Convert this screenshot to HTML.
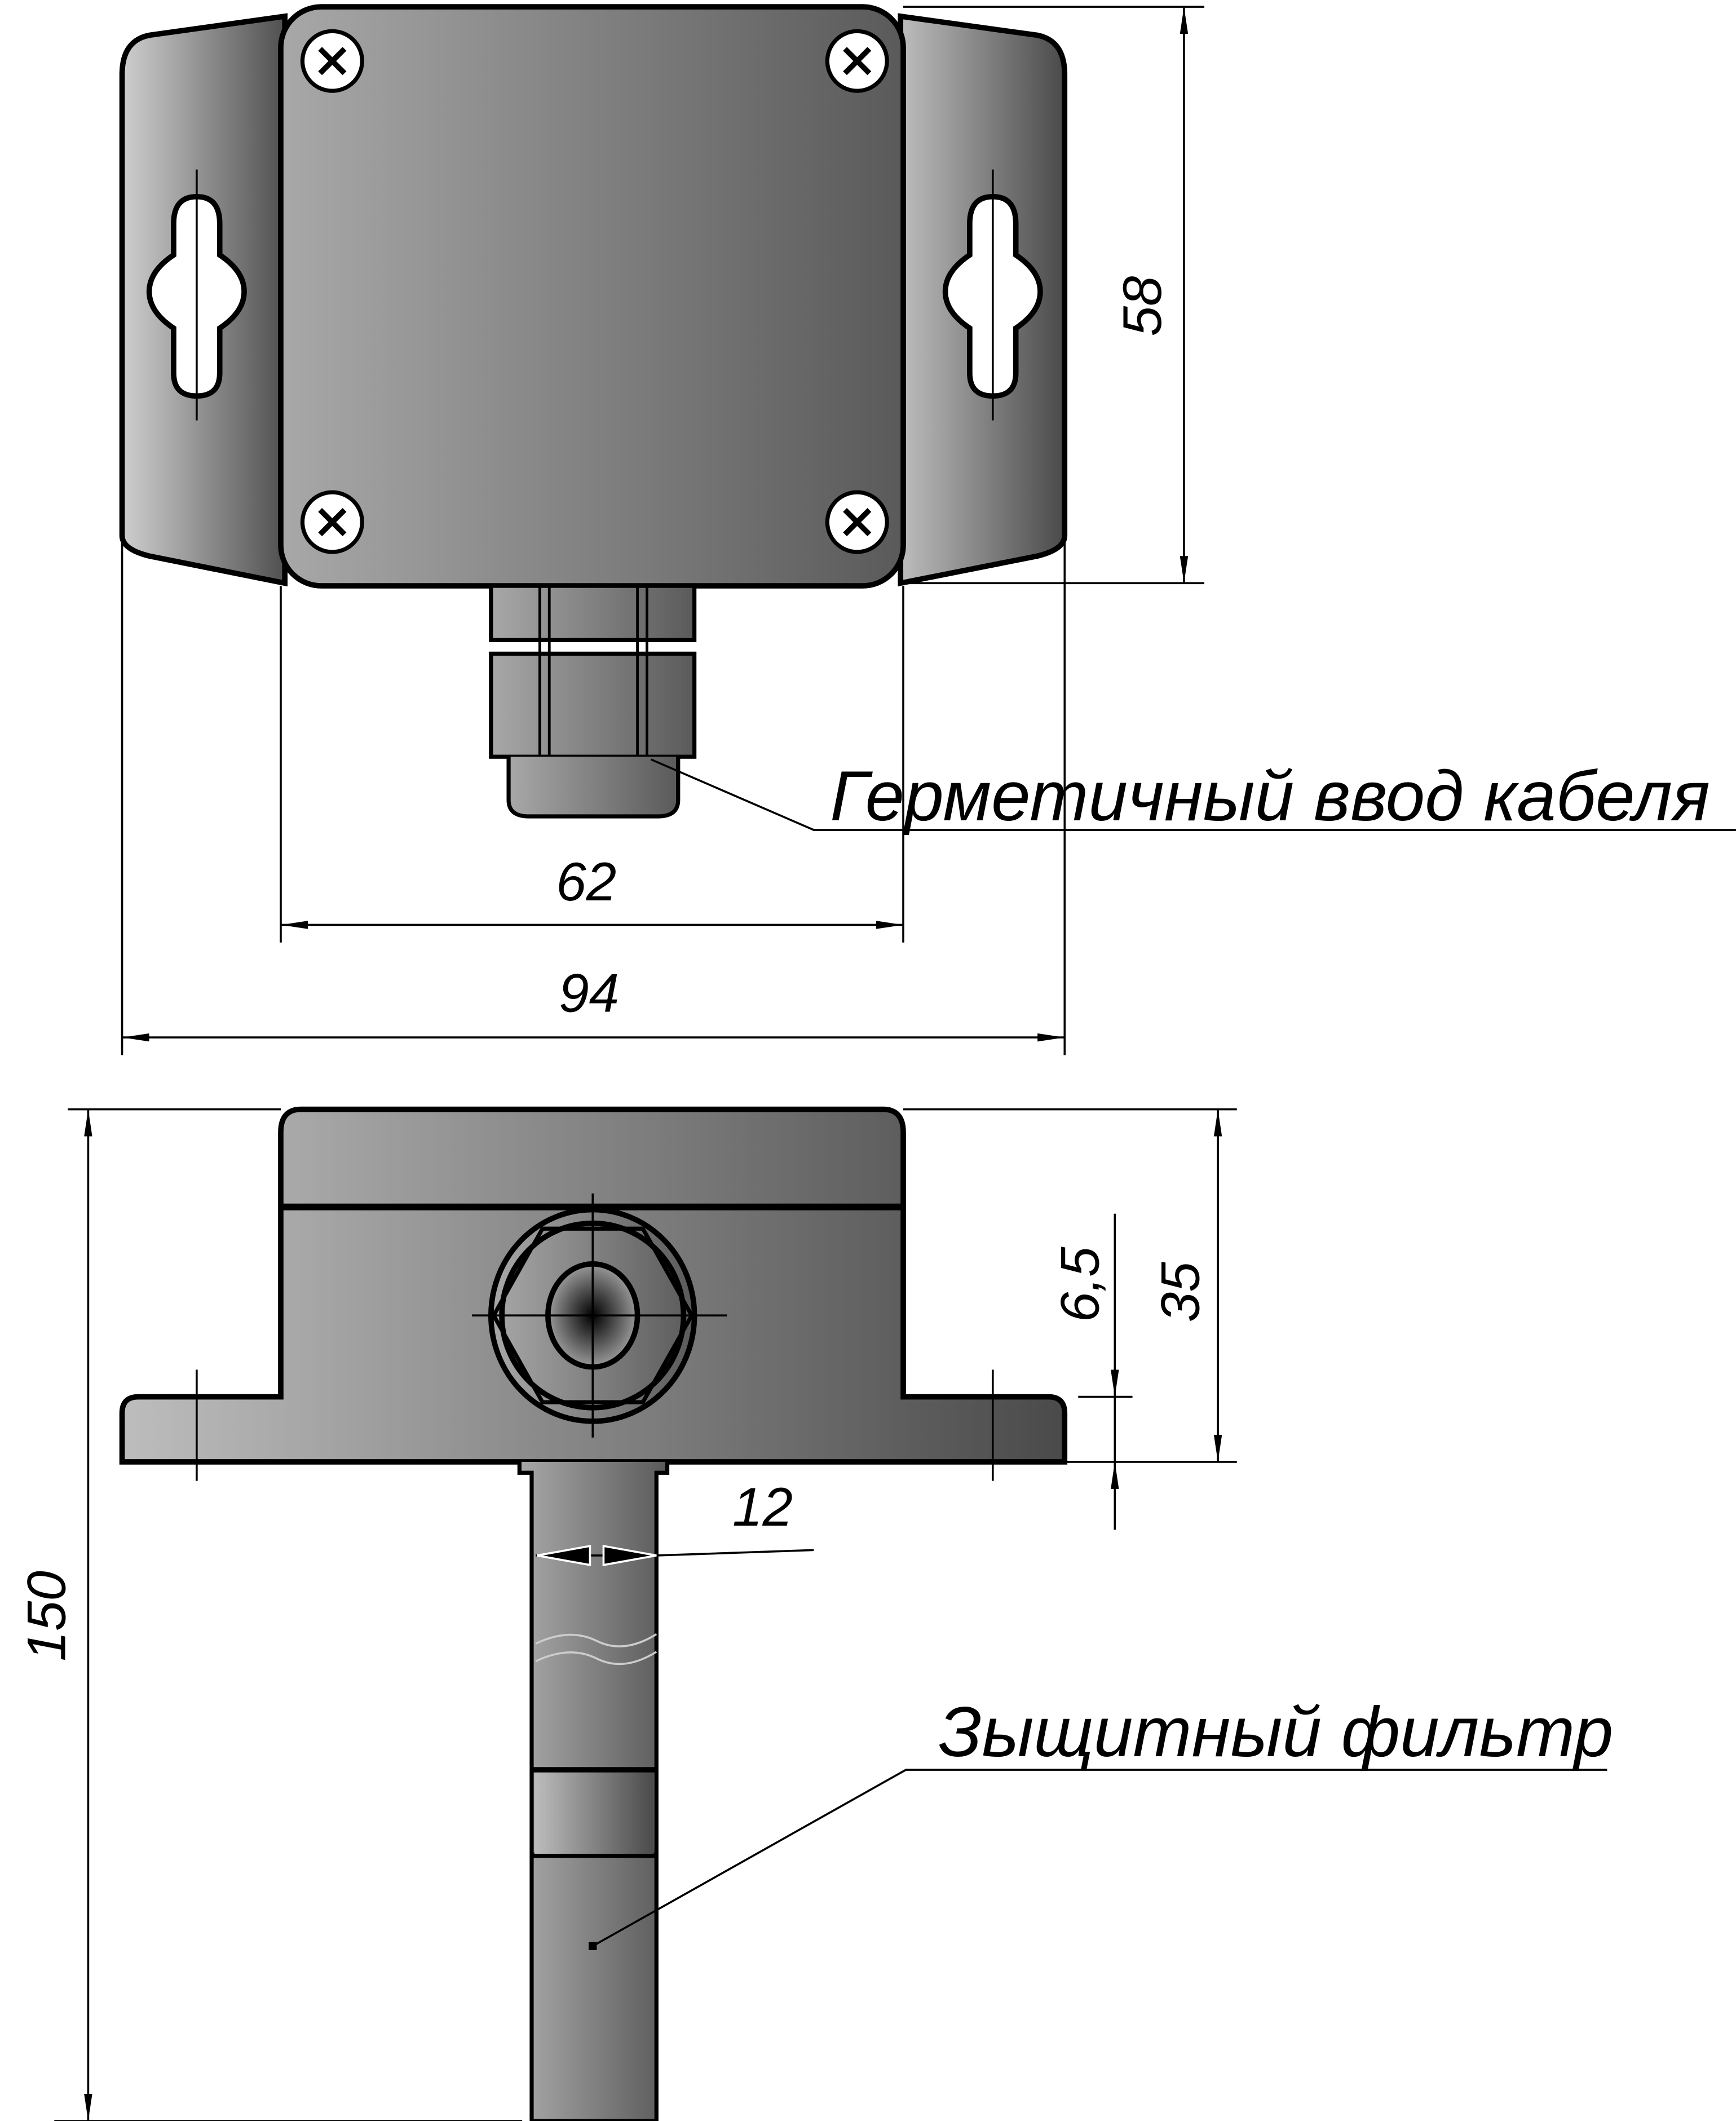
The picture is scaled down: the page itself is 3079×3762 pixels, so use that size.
<!DOCTYPE html>
<html><head><meta charset="utf-8"><style>
html,body{margin:0;padding:0;background:#fff}
svg{display:block}
text{font-family:"Liberation Sans",sans-serif;font-style:italic;fill:#000}
</style></head><body>
<svg width="3079" height="3762" viewBox="0 0 1280 1564" xmlns="http://www.w3.org/2000/svg">
<defs>
<linearGradient id="g1" x1="0" x2="1" y1="0" y2="0"><stop offset="0" stop-color="#bdbdbd"/><stop offset="1" stop-color="#4a4a4a"/></linearGradient>
<linearGradient id="g2" x1="0" x2="1" y1="0" y2="0"><stop offset="0" stop-color="#a8a8a8"/><stop offset="1" stop-color="#5a5a5a"/></linearGradient>
<linearGradient id="g3" x1="0" x2="1" y1="0" y2="0"><stop offset="0" stop-color="#cfcfcf"/><stop offset="1" stop-color="#505050"/></linearGradient>
<radialGradient id="r1"><stop offset="0" stop-color="#000"/><stop offset="1" stop-color="#9a9a9a"/></radialGradient>
<marker id="a" viewBox="0 0 20 6" refX="20" refY="3" markerWidth="20" markerHeight="6" markerUnits="userSpaceOnUse" orient="auto-start-reverse"><path d="M0,0 L20,3 L0,6 Z" fill="#000"/></marker>
</defs>
<g stroke="#000" fill="none">
<!-- TOP VIEW -->
<path d="M210,12 L110,26 Q90,30 90,55 L90,395 Q90,405 110,410 L210,430 Z" fill="url(#g3)" stroke-width="4"/>
<path d="M664,12 L765,26 Q785,30 785,55 L785,395 Q785,405 765,410 L664,430 Z" fill="url(#g1)" stroke-width="4"/>
<rect x="207" y="5" width="459" height="427" rx="30" fill="url(#g2)" stroke-width="4"/>
<g stroke-width="3" fill="#fff">
<circle cx="245" cy="45" r="22"/><circle cx="632" cy="45" r="22"/><circle cx="245" cy="385" r="22"/><circle cx="632" cy="385" r="22"/>
</g>
<g stroke-width="4">
<path d="M236,36l18,18M254,36l-18,18M623,36l18,18M641,36l-18,18M236,376l18,18M254,376l-18,18M623,376l18,18M641,376l-18,18"/>
</g>
<g fill="#fff" stroke-width="4">
<path d="M128,165 Q128,145 145,145 Q162,145 162,165 L162,188 Q180,200 180,215 Q180,230 162,242 L162,275 Q162,292 145,292 Q128,292 128,275 L128,242 Q110,230 110,215 Q110,200 128,188 Z"/>
<path d="M715,165 Q715,145 732,145 Q749,145 749,165 L749,188 Q767,200 767,215 Q767,230 749,242 L749,275 Q749,292 732,292 Q715,292 715,275 L715,242 Q697,230 697,215 Q697,200 715,188 Z"/>
</g>
<path d="M145,125V310M732,125V310" stroke-width="1.5"/>
<!-- gland -->
<rect x="362" y="432" width="150" height="40" fill="url(#g2)" stroke-width="3"/>
<rect x="362" y="482" width="150" height="76" fill="url(#g2)" stroke-width="3"/>
<path d="M398,432V558M405,432V558M470,432V558M477,432V558M362,472h150M362,482h150" stroke-width="2"/>
<path d="M375,558 V590 Q375,602 390,602 H485 Q500,602 500,590 V558" fill="url(#g2)" stroke-width="3"/>
<path d="M480,560 L600,612 H1280" stroke-width="1.5"/>
<text x="612" y="605" font-size="52" stroke="none">Герметичный ввод кабеля</text>
<!-- top dims -->
<g stroke-width="1.5">
<path d="M666,5H888M666,430H888"/>
<path d="M873,5V430" marker-start="url(#a)" marker-end="url(#a)"/>
<path d="M207,432V695M666,432V695M90,400V778M785,400V778"/>
<path d="M207,682H666" marker-start="url(#a)" marker-end="url(#a)"/>
<path d="M90,765H785" marker-start="url(#a)" marker-end="url(#a)"/>
</g>
<text x="0" y="0" font-size="40" stroke="none" transform="translate(856,248) rotate(-90)">58</text>
<text x="410" y="664" font-size="40" stroke="none">62</text>
<text x="412" y="746" font-size="40" stroke="none">94</text>
<!-- BOTTOM VIEW -->
<path d="M207,890 V835 Q207,818 222,818 H651 Q666,818 666,835 V1030 H773 Q785,1030 785,1042 V1078 H90 V1042 Q90,1030 102,1030 H207 Z" fill="url(#g1)" stroke-width="4"/>
<path d="M207,890H666" stroke-width="5"/>
<path d="M145,1010V1092M732,1010V1092" stroke-width="1.5"/>
<ellipse cx="437" cy="970" rx="75" ry="78" fill="url(#g2)" stroke-width="4"/>
<path d="M400,906 H474 L510,970 L474,1034 H400 L364,970 Z" stroke-width="3"/>
<ellipse cx="437" cy="970" rx="67" ry="68" stroke-width="4"/>
<ellipse cx="437" cy="970" rx="33" ry="38" fill="url(#r1)" stroke-width="4"/>
<path d="M348,970H536M437,880V1060" stroke-width="1.5"/>
<!-- shaft -->
<path d="M383,1078 V1086 H392 V1564 H484 V1086 H492 V1078" fill="url(#g2)" stroke-width="3"/>
<path d="M392,1305H484M392,1368H484" stroke-width="4"/>
<rect x="394" y="1307" width="88" height="60" fill="url(#g1)" stroke="none"/>
<path d="M395,1212 Q420,1200 440,1210 T484,1205M395,1225 Q420,1213 440,1223 T484,1218" stroke="#ccc" stroke-width="1.5"/>
<rect x="434" y="1432" width="6" height="6" fill="#000" stroke="none"/>
<path d="M437,1435 L668,1305 H1185" stroke-width="1.5"/>
<text x="692" y="1295" font-size="52" stroke="none">Зыщитный фильтр</text>
<!-- bottom dims -->
<g stroke-width="1.5">
<path d="M50,818H207M666,818H912M785,1078H912M795,1030H835M385,1564H40"/>
<path d="M65,818V1564" marker-start="url(#a)" marker-end="url(#a)"/>
<path d="M898,818V1078" marker-start="url(#a)" marker-end="url(#a)"/>
<path d="M822,895V1030" marker-end="url(#a)"/>
<path d="M822,1128V1078" marker-end="url(#a)"/>
<path d="M822,1030V1078"/>
<path d="M395,1147H484L600,1143"/>
</g>
<path d="M396,1147 L435,1140 V1154 Z M484,1147 L445,1140 V1154 Z" fill="#000" stroke="#fff" stroke-width="1.5"/>
<text x="0" y="0" font-size="40" stroke="none" transform="translate(810,975) rotate(-90)">6,5</text>
<text x="0" y="0" font-size="40" stroke="none" transform="translate(884,975) rotate(-90)">35</text>
<text x="0" y="0" font-size="40" stroke="none" transform="translate(48,1225) rotate(-90)">150</text>
<text x="540" y="1125" font-size="40" stroke="none">12</text>
</g>
</svg>
</body></html>
